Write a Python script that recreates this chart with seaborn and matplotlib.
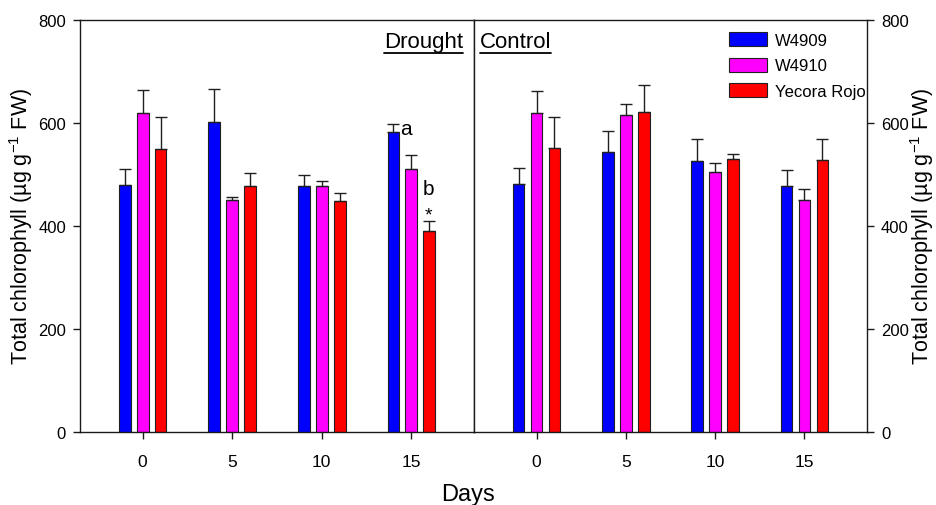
import numpy as np
import pandas as pd
import matplotlib
matplotlib.use("Agg")
import matplotlib.pyplot as plt
from matplotlib.patches import Patch
from matplotlib.lines import Line2D
import seaborn as sns

# ---------------- data ----------------
days = ["0", "5", "10", "15"]
cultivars = ["W4909", "W4910", "Yecora Rojo"]
colors = ["#0000FF", "#FF00FF", "#FF0000"]

drought_w4909 = [480, 601, 477, 583]
drought_w4910 = [620, 451, 477, 511]
drought_yecora = [550, 477, 449, 391]
drought_w4909_err = [31, 65, 22, 15]
drought_w4910_err = [44, 6, 11, 27]
drought_yecora_err = [61, 25, 15, 18]

control_w4909 = [481, 543, 526, 478]
control_w4910 = [620, 616, 504, 450]
control_yecora = [551, 622, 530, 528]
control_w4909_err = [31, 41, 43, 30]
control_w4910_err = [43, 21, 18, 21]
control_yecora_err = [60, 51, 9, 41]

yticks = [0, 200, 400, 600, 800]
ylabel = "Total chlorophyll (µg g$^{-1}$ FW)"


def make_df(vals):
    rows = []
    for cv, series in zip(cultivars, vals):
        for d, v in zip(days, series):
            rows.append({"day": d, "cultivar": cv, "value": v})
    return pd.DataFrame(rows)


drought_df = make_df([drought_w4909, drought_w4910, drought_yecora])
control_df = make_df([control_w4909, control_w4910, control_yecora])
drought_err = [drought_w4909_err, drought_w4910_err, drought_yecora_err]
control_err = [control_w4909_err, control_w4910_err, control_yecora_err]

# ---------------- style ----------------
sns.set_style("ticks")
plt.rcParams["font.family"] = ["Liberation Sans", "DejaVu Sans"]
plt.rcParams["mathtext.default"] = "regular"
plt.rcParams["text.color"] = "black"

W, H = 937, 506
fig = plt.figure(figsize=(W / 100, H / 100), dpi=100)
ax_l = fig.add_axes([80 / W, (H - 433) / H, 394 / W, 412 / H])
ax_r = fig.add_axes([474 / W, (H - 433) / H, 393 / W, 412 / H])

palette = dict(zip(cultivars, colors))
spine_col = "#1a1a1a"

for ax, df, errs in [(ax_l, drought_df, drought_err), (ax_r, control_df, control_err)]:
    sns.barplot(data=df, x="day", y="value", hue="cultivar", order=days,
                hue_order=cultivars, palette=palette, saturation=1, width=0.6,
                gap=0.35, edgecolor="#202020", linewidth=0.8, errorbar=None,
                legend=False, ax=ax, zorder=2)
    for cont, err in zip(ax.containers, errs):
        xs = [b.get_x() + b.get_width() / 2 for b in cont]
        ys = [b.get_height() for b in cont]
        ax.errorbar(xs, ys, yerr=[np.zeros(len(err)), err], fmt="none",
                    ecolor="#202020", elinewidth=1.0, capsize=4.5, capthick=1.0,
                    zorder=3)
    ax.set_xlim(-0.7, 3.7)
    ax.set_ylim(0, 800)
    ax.set_yticks(yticks)
    ax.set_xlabel("")
    ax.set_ylabel("")
    for s in ax.spines.values():
        s.set_color(spine_col)
        s.set_linewidth(1.0)
    ax.tick_params(axis="x", direction="out", length=5, width=1.0,
                   color=spine_col, labelcolor="black", labelsize=12.5, pad=11)
    ax.tick_params(axis="y", direction="out", length=5, width=1.0,
                   color=spine_col, labelcolor="black", labelsize=12, pad=5)

ax_l.tick_params(axis="y", left=True, right=False, labelleft=True, labelright=False)
ax_r.tick_params(axis="y", left=False, right=True, labelleft=False, labelright=True)

# axis labels
fig.text(21 / W, (H - 226) / H, ylabel, rotation=90, ha="center", va="center",
         fontsize=15.5)
fig.text(922 / W, (H - 226) / H, ylabel, rotation=90, ha="center", va="center",
         fontsize=15.5)
fig.text(0.5, 5 / H, "Days", ha="center", va="baseline", fontsize=17)

# panel titles (underlined)
t1 = ax_l.text(0.972, 0.935, "Drought", transform=ax_l.transAxes, ha="right",
               va="baseline", fontsize=16)
t2 = ax_r.text(0.015, 0.935, "Control", transform=ax_r.transAxes, ha="left",
               va="baseline", fontsize=16)

# significance letters
ax_l.text(2.94, 590, "a", ha="center", va="center", fontsize=15)
ax_l.text(3.19, 472, "b", ha="center", va="center", fontsize=15)
ax_l.text(3.19, 422, "*", ha="center", va="center", fontsize=14)

# legend
handles = [Patch(facecolor=c, edgecolor="#202020", linewidth=0.8) for c in colors]
ax_r.legend(handles, cultivars, loc="upper left",
            bbox_to_anchor=(729 / W, (H - 33) / H), bbox_transform=fig.transFigure,
            frameon=False, fontsize=12, handlelength=2.3, handleheight=0.9,
            handletextpad=0.45, labelspacing=0.6, borderpad=0, borderaxespad=0)

# underline the panel titles
fig.canvas.draw()
r = fig.canvas.get_renderer()
inv = fig.transFigure.inverted()
for t in (t1, t2):
    bb = t.get_window_extent(r)
    (x0, y0), (x1, y1) = inv.transform([[bb.x0, bb.y0], [bb.x1, bb.y0]])
    yl = y0 - 1.0 / H
    fig.add_artist(Line2D([x0, x1], [yl, yl], transform=fig.transFigure,
                          color="black", linewidth=1.3))

fig.savefig("out.png", dpi=100)
